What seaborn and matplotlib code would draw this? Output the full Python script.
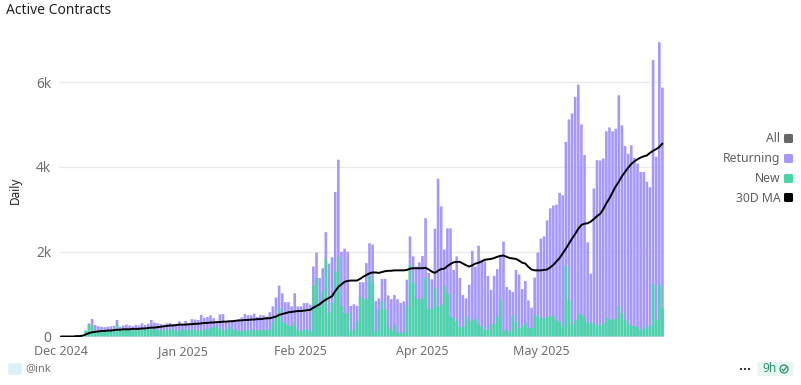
import numpy as np
import pandas as pd
import seaborn as sns
import matplotlib.pyplot as plt
from matplotlib.lines import Line2D
from matplotlib.markers import MarkerStyle
from matplotlib.patches import Circle, FancyBboxPatch

# Values, in thousands per day
total = [0, 0, 0, 0, 0, 0, 0, 0, .14, .31, .415,
         .27, .24, .23, .22, .23, .24, .25, .39, .23, .26, .28, .26, .24, .27, .26, .31, .27, .30, .39,
         .33, .31, .29, .28, .31, .32, .29, .28, .36, .30, .37, .30, .41, .40, .39, .51, .44, .46, .50,
         .43, .35, .52, .53, .34, .35, .38, .36, .40, .45, .53, .50, .50, .54, .46, .50, .50, .47,
         .57, .71, .92, 1.2, 1.02, .81, .81, .71, 1.02, .71,
         .71, .79, .79, .75, 1.65, 1.98, 1.38, 1.61, 2.46, 1.72,
         1.87, 3.41, 4.17, 2.0, 2.07, 2.0, .72, .76, .72, 1.28,
         1.28, 1.73, 2.2, 2.17, .84, .9, 1.36, 1.36, .97, .88,
         .98, .88, .79, .83, 1.34, 2.36, 1.89, 1.65, 1.75, 1.9,
         2.79, 1.5, 1.35, 2.54, 3.72, 3.07, 2.05, 2.55, 2.55, 1.57,
         1.89, 1.38, .98, .9, 1.22, 2.02, 1.65, 2.14, 1.81, 1.77,
         1.43, 1.1, 1.43, 1.59, 1.93, 2.24, 1.17, 1.1, 1.05, 1.57,
         1.46, 1.12, 1.31, .85, .68, 1.39, 1.98, 2.31, 2.36, 2.74, 3.02, 3.09, 3.11, 3.39, 3.33, 4.59,
         5.12, 5.26, 5.65, 5.94, 5.0, 4.28, 2.22, 1.48, 3.49, 4.16,
         4.15, 4.2, 4.84, 4.93, 4.84, 4.9, 5.69, 4.98, 4.49, 4.31, 4.51, 4.21, 4.08, 3.88, 3.88, 3.65,
         3.52, 6.52, 4.24, 6.94, 5.87]

new = [0, 0, 0, 0, 0, 0, 0, 0, .13, .28, .25, .12,
       .12, .13, .12, .14, .14, .15, .28, .14, .16, .17,
       .15, .14, .15, .14, .17, .15, .17, .20, .18, .15,
       .14, .15, .14, .17, .16, .13, .14, .18, .16, .14,
       .17, .15, .14, .13, .18, .16, .20, .22, .25, .19,
       .14, .17, .23, .15, .16, .12, .13, .15, .14, .16,
       .15, .14, .16, .15, .14,
       .16, .34, .47, .67, .35, .3, .25, .24, .33, .16,
       .12, .17, .17, .12, 1.2, 1.38, .71, 1.06, 1.83, .55,
       .79, 1.54, 1.87, .71, .55, .55, .12, .16, .35, .94,
       .88, .88, 1.42, 1.26, .12, .63, .83, .63, .22, .14,
       .28, .09, .09, .09, .71, 1.69, 1.26, .88, .88, .9,
       1.38, .65, .65, 1.14, .71, .75, 1.2, 1.02, .47, .43,
       .35, .22, .24, .47, .35, .39, .41, .28, .24, .16,
       .16, .28, .31, .47, .87, .12, .16, .12, .5, .35,
       .2, .24, .31, .2, .2, .49, .5, .43, .43, .46, .49, .47, .38, .35, .25, 1.67,
       .85, .28, .39, .54, .51, .43, .31, .33, .31, .26,
       .26, .32, .46, .4, .4, .42, .72, .54, .38, .3, .26, .24, .22, .15, .18, .22,
       .26, 1.24, .38, 1.22, .67]

ma_30d = [0, 0, 0, 0, 0, .01, .01, .02, .05, .08, .10, .11, .12, .13, .13, .14, .14, .15, .16, .16,
          .17, .17, .17, .18, .18, .18, .19, .19, .20, .21, .21, .22, .23, .24, .25, .26, .26, .27, .28, .28,
          .28, .29, .29, .30, .30, .31, .32, .32, .33, .33, .34, .34, .35, .35, .36, .36, .37, .38, .38, .39,
          .39, .40, .40, .41, .41, .42, .43, .43, .45, .47, .51, .53, .55, .57, .58, .59, .60, .60, .61, .62,
          .63, .68, .72, .76, .82, .87, .91, .95, 1.07, 1.17, 1.23, 1.29, 1.31, 1.32, 1.32, 1.32, 1.36, 1.41, 1.45, 1.49,
          1.51, 1.51, 1.5, 1.52, 1.54, 1.55, 1.55, 1.56, 1.56, 1.56, 1.56, 1.57, 1.60, 1.61, 1.61, 1.61, 1.61, 1.62, 1.58, 1.53,
          1.50, 1.55, 1.59, 1.60, 1.66, 1.71, 1.75, 1.76, 1.76, 1.72, 1.68, 1.65, 1.68, 1.72, 1.74, 1.77, 1.81, 1.82, 1.83, 1.85,
          1.88, 1.90, 1.91, 1.88, 1.85, 1.84, 1.83, 1.79, 1.74, 1.72, 1.64, 1.58, 1.56, 1.56, 1.56, 1.57, 1.58, 1.63, 1.69, 1.77,
          1.85, 1.96, 2.07, 2.19, 2.31, 2.42, 2.54, 2.63, 2.66, 2.67, 2.71, 2.77, 2.84, 2.89, 3.0, 3.14, 3.26, 3.4, 3.54, 3.65,
          3.78, 3.88, 3.98, 4.07, 4.13, 4.18, 4.22, 4.25, 4.27, 4.33, 4.38, 4.42, 4.47, 4.55]

tick_days = [0, 39, 77, 116, 154]
tick_labels = ['Dec 2024', 'Jan 2025', 'Feb 2025', 'Apr 2025', 'May 2025']
y_ticks = [0, 2, 4, 6]
y_labels = ['0', '2k', '4k', '6k']

df = pd.DataFrame({'day': np.arange(len(total)), 'total': total, 'new': new, 'ma': ma_30d})

sns.set_theme(style='white')
plt.rcParams['font.family'] = ['Noto Sans', 'DejaVu Sans']

W, H = 801, 385
fig = plt.figure(figsize=(W / 100, H / 100), dpi=100)
ax = fig.add_axes([59.4 / W, 1 - 336.5 / H, 604.6 / W, 296.8 / H])

purple = '#a698fa'
green = '#47d7a6'
gray = '#6f6f6f'

sns.barplot(data=df, x='day', y='total', color=purple, saturation=1, width=0.84, ax=ax, zorder=2)
sns.barplot(data=df, x='day', y='new', color=green, saturation=1, width=0.84, ax=ax, zorder=3)
sns.lineplot(data=df, x='day', y='ma', color='black', linewidth=1.4, ax=ax, zorder=4)

# no pixel snapping, otherwise the thin bars come out uneven
for bar in ax.patches:
    bar.set_snap(False)
    bar.set_linewidth(0)

ax.set_xlim(-0.5, len(total) - 0.5)
ax.set_ylim(0, 7)
ax.set_xticks(tick_days)
ax.set_xticklabels(tick_labels, fontsize=9, color=gray)
ax.set_yticks(y_ticks)
ax.set_yticklabels(y_labels, fontsize=10, color=gray)
ax.tick_params(axis='both', length=0, pad=6)
ax.grid(axis='y', color='#e9e9ee', linewidth=0.9)
ax.set_axisbelow(True)
ax.set_xlabel('')
ax.set_ylabel('')
sns.despine(ax=ax, left=True, bottom=True)

fig.text(6 / W, 1 - 10 / H, 'Active Contracts', fontsize=10, fontweight='medium', color='#222222', va='center')
fig.text(15 / W, 1 - 190 / H, 'Daily', fontsize=8.5, color='#222222', rotation=90, ha='center', va='center')

# legend on the right, labels before the markers
rounded = MarkerStyle('s', joinstyle='round')
handles = [Line2D([], [], marker=rounded, linestyle='', markersize=4.5, markeredgewidth=2.2, color=c)
           for c in ['#666666', purple, green, 'black']]
leg = fig.legend(handles, ['All', 'Returning', 'New', '30D MA'], loc='center right',
                 bbox_to_anchor=(806 / W, 1 - 168.5 / H), frameon=False, markerfirst=False,
                 alignment='right', fontsize=8.8, labelspacing=0.55, handletextpad=0.0, handlelength=1.2)
for t in leg.get_texts():
    t.set_color('#5f5f5f')

# footer
fig.add_artist(FancyBboxPatch((10 / W, 1 - 374 / H), 10 / W, 10 / H, transform=fig.transFigure,
                              boxstyle='round,pad=0.002', facecolor='#daf0f8', edgecolor='none'))
fig.text(25 / W, 1 - 369 / H, '@ink', fontsize=8, color=gray, va='center')
for dx in [741, 745, 749]:
    fig.add_artist(Circle((dx, H - 369), 1.1, transform=None, facecolor='#222222', edgecolor='none'))
fig.add_artist(FancyBboxPatch((760 / W, 1 - 375 / H), 31 / W, 12 / H, transform=fig.transFigure,
                              boxstyle='round,pad=0.003', facecolor='#e6f6f0', edgecolor='none'))
fig.text(762 / W, 1 - 369 / H, '9h', fontsize=8.5, color='#2f8f6b', va='center')
fig.add_artist(Circle((784, H - 369), 4, transform=None, facecolor='none', edgecolor='#2f8f6b', linewidth=0.9))
fig.add_artist(Line2D([782 / W, 783.6 / W, 786.2 / W], [1 - 369 / H, 1 - 371 / H, 1 - 367.2 / H],
                      transform=fig.transFigure, color='#2f8f6b', linewidth=0.9))

fig.savefig('out.png', dpi=100)
